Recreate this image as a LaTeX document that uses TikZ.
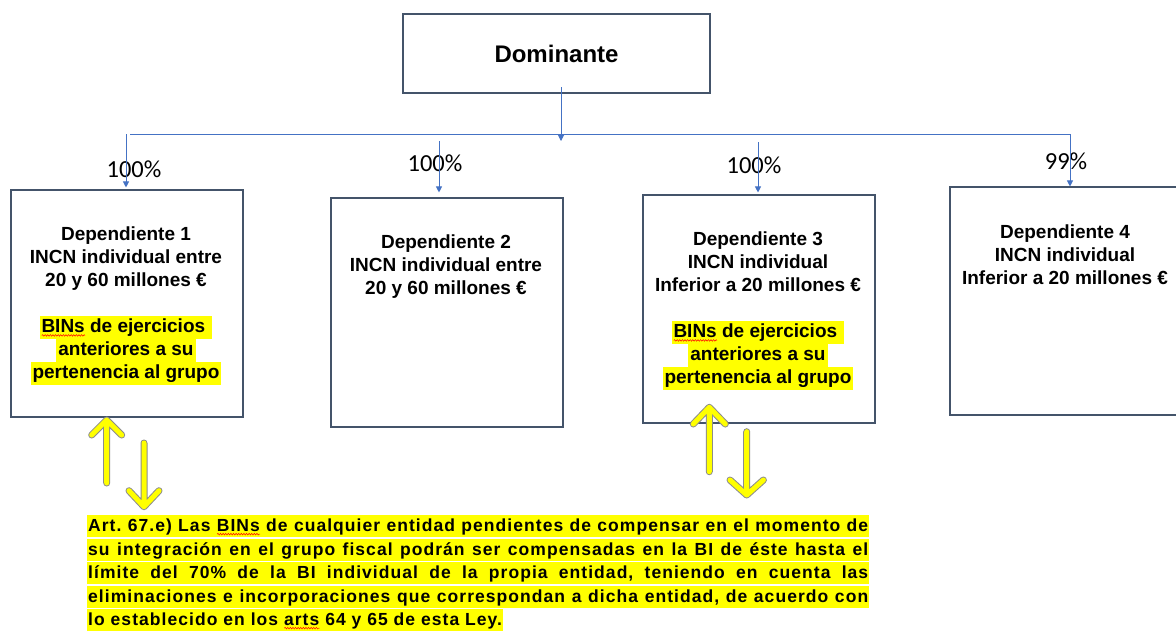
\documentclass[tikz,border=0pt]{standalone}
\usepackage{fontspec}
\setmainfont{Liberation Sans}
\newfontfamily\pctfont{Carlito}
\newfontfamily\artfont[LetterSpace=6]{Liberation Sans}
\usetikzlibrary{arrows.meta,decorations.pathmorphing}

\definecolor{boxline}{RGB}{68,84,106}
\definecolor{busblue}{RGB}{68,114,196}
\definecolor{hlyellow}{RGB}{255,255,0}
\definecolor{arrowedge}{RGB}{140,140,140}

% red spell-check wave under a word
\newsavebox\wavebox
\newlength\wavelen
\newcommand\spellwave[1]{\sbox\wavebox{#1}\setlength\wavelen{\wd\wavebox}%
	\rlap{\raisebox{-3.5pt}{\tikz[x=1pt,y=1pt]\draw[red, line width=0.5pt, decorate,
		decoration={snake, amplitude=0.8pt, segment length=2.6pt}] (0,0) -- (\wavelen,0);}}\usebox\wavebox}
% highlighted lines
\newcommand\hlline[1]{{\setlength\fboxsep{0pt}\colorbox{hlyellow}{\rule[-6pt]{0pt}{23pt}\hspace{2pt}#1\hspace{2pt}}}}
\newcommand\hlband[1]{{\setlength\fboxsep{0pt}\colorbox{hlyellow}{\rule[-5.5pt]{0pt}{22pt}\hspace{1pt}#1\hspace{1pt}}}}
\frenchspacing

\begin{document}
\begin{tikzpicture}[x=1pt,y=-1pt,
		box/.style={draw=boxline, line width=1.1pt, inner sep=0pt},
		boxtext/.style={font=\bfseries\fontsize{19}{23}\selectfont, align=center, inner sep=0pt, anchor=north},
		pct/.style={font=\pctfont\fontsize{24.5}{28}\selectfont, inner sep=0pt, anchor=base},
		bus/.style={draw=busblue, line width=0.9pt},
		bustip/.style={bus, -{Triangle[width=6pt,length=6pt]}},
		yarrow/.style={draw=hlyellow, line width=5pt, line cap=round, line join=round,
			preaction={draw=arrowedge, line width=7pt, line cap=round, line join=round}}]
				\path[use as bounding box, clip] (0,0) rectangle (1176,630);
				\fill[white] (0,0) rectangle (1176,630);
				% boxes
				\node[box, minimum width=307pt, minimum height=79pt, font=\bfseries\fontsize{24}{28}\selectfont] (dom) at (556.5,53.5) {Dominante};
				\node[box, minimum width=232pt, minimum height=227pt] (dep1) at (127,303.5) {};
				\node[box, minimum width=232pt, minimum height=229pt] (dep2) at (447,312.5) {};
				\node[box, minimum width=232pt, minimum height=228pt] (dep3) at (759,309) {};
				\node[box, minimum width=232pt, minimum height=228pt] (dep4) at (1066,301) {};
				\node[boxtext] (dep1txt) at (126,227) {Dependiente 1\\INCN individual entre\\20 y 60 millones €\\[23pt]
					\hlline{\spellwave{BINs} de ejercicios }\\\hlline{anteriores a su}\\\hlline{pertenencia al grupo}};
				\node[boxtext] (dep2txt) at (446,235) {Dependiente 2\\INCN individual entre\\20 y 60 millones €};
				\node[boxtext] (dep3txt) at (758,232) {Dependiente 3\\INCN individual\\Inferior a 20 millones €\\[23pt]
					\hlline{\spellwave{BINs} de ejercicios }\\\hlline{anteriores a su}\\\hlline{pertenencia al grupo}};
				\node[boxtext] (dep4txt) at (1065,225) {Dependiente 4\\INCN individual\\Inferior a 20 millones €};
				% percentages
				\node[pct] (p1) at (134,177) {100\%};
				\node[pct] (p2) at (435,171) {100\%};
				\node[pct] (p3) at (754,173) {100\%};
				\node[pct] (p4) at (1066,169) {99\%};
				% bus and arrows
				\coordinate (d0) at (561,87);
				\coordinate (d1) at (561,141);
				\coordinate (bl) at (130,134);
				\coordinate (br) at (1070,134);
				\coordinate (t1) at (126,134);
				\coordinate (t2) at (439,141);
				\coordinate (t3) at (758,142);
				\coordinate (t4) at (1070,134);
				\draw[bus] (bl) -- (br);
				\draw[bustip] (d0) -- (d1);
				\draw[bustip, shorten >=2pt] (t1) -- (t1 |- dep1.north);
				\draw[bustip, shorten >=5pt] (t2) -- (t2 |- dep2.north);
				\draw[bustip, shorten >=2pt] (t3) -- (t3 |- dep3.north);
				\draw[bustip] (t4) -- (t4 |- dep4.north);
				% article text
				\node[anchor=north west, inner sep=0pt, align=left, font=\artfont\bfseries\fontsize{17.5}{23.5}\selectfont] (art) at (87,515) {%
					\hlband{\makebox[780pt][s]{Art. 67.e) Las \spellwave{BINs} de cualquier entidad pendientes de compensar en el momento de}}\\
					\hlband{\makebox[780pt][s]{su integración en el grupo fiscal podrán ser compensadas en la BI de éste hasta el}}\\
					\hlband{\makebox[780pt][s]{límite del 70\% de la BI individual de la propia entidad, teniendo en cuenta las}}\\
					\hlband{\makebox[780pt][s]{eliminaciones e incorporaciones que correspondan a dicha entidad, de acuerdo con}}\\
					\hlband{lo establecido en los \spellwave{arts} 64 y 65 de esta Ley.}};
				% yellow arrows
				\coordinate (u1a) at (106.7,483);
				\coordinate (u1b) at (106.7,420);
				\coordinate (v1a) at (144,443);
				\coordinate (v1b) at (144,506.7);
				\coordinate (u2a) at (709.3,471.7);
				\coordinate (u2b) at (709.3,407.3);
				\coordinate (v2a) at (746.7,431.7);
				\coordinate (v2b) at (746.7,495);
				\draw[yarrow] (u1a) -- (u1b) ++(-15,15) -- (u1b) -- ++(15,15);
				\draw[yarrow] (v1a) -- (v1b) ++(-15,-16) -- (v1b) -- ++(15,-16);
				\draw[yarrow] (u2a) -- (u2b) ++(-16,16.7) -- (u2b) -- ++(16,16.7);
				\draw[yarrow] (v2a) -- (v2b) ++(-16.7,-15) -- (v2b) -- ++(16.7,-15);
\end{tikzpicture}
\end{document}
